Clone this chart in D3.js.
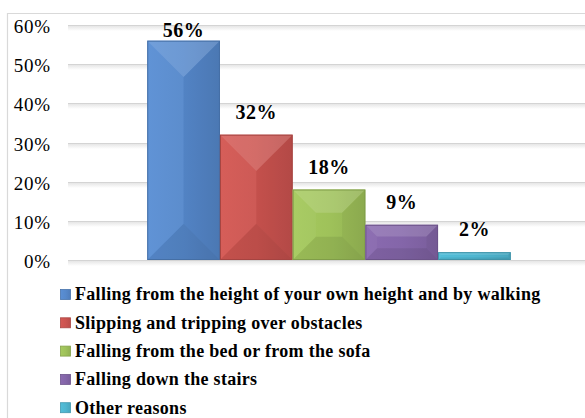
<!DOCTYPE html>
<html>
<head>
<meta charset="utf-8">
<script src="https://cdn.jsdelivr.net/npm/d3@7"></script>
<style>
  html, body { margin: 0; padding: 0; background: #fff; }
  #chart { width: 585px; height: 418px; overflow: hidden; }
  #chart text { font-family: "Liberation Serif", "Times New Roman", Times, serif; }
</style>
</head>
<body>
<div id="chart"></div>
<script>
/* ---- data ---- */
const seriesNames = [
  "Falling from the height of your own height and by walking",
  "Slipping and tripping over obstacles",
  "Falling from the bed or from the sofa",
  "Falling down the stairs",
  "Other reasons"
];
const seriesValues = [0.56, 0.32, 0.18, 0.09, 0.02];
const seriesColors = ["#5689cc", "#cc5450", "#9fc25a", "#8466a9", "#4fb6d0"];
const yTicks = [0, 0.1, 0.2, 0.3, 0.4, 0.5, 0.6];

(function () {
  "use strict";

  const WIDTH = 585;
  const HEIGHT = 418;
  const PLOT = { left: 68, right: 590, top: 25, bottom: 260 };
  const GRID_COLOR = "#d4d4d4";
  const FRAME_COLOR = "#d9d9d9";

  var svg = d3.select("#chart").append("svg")
    .attr("width", WIDTH)
    .attr("height", HEIGHT)
    .style("display", "block");

  var defs = svg.append("defs");

  /* soft shadow under gridlines */
  var shadow = defs.append("linearGradient")
    .attr("id", "gridShadow").attr("x1", 0).attr("y1", 0).attr("x2", 0).attr("y2", 1);
  shadow.append("stop").attr("offset", "0%").attr("stop-color", "#e6e6e6");
  shadow.append("stop").attr("offset", "100%").attr("stop-color", "#ffffff");

  /* horizontal shading per bar colour */
  seriesColors.forEach(function (c, i) {
    var g = defs.append("linearGradient")
      .attr("id", "barGrad" + i).attr("x1", 0).attr("y1", 0).attr("x2", 1).attr("y2", 0);
    g.append("stop").attr("offset", "0%").attr("stop-color", d3.color(c).brighter(0.12));
    g.append("stop").attr("offset", "50%").attr("stop-color", c);
    g.append("stop").attr("offset", "100%").attr("stop-color", d3.color(c).darker(0.25));
  });

  /* frame */
  svg.append("path")
    .attr("d", "M7.5," + HEIGHT + "V13.5H" + WIDTH)
    .attr("fill", "none")
    .attr("stroke", FRAME_COLOR)
    .attr("stroke-width", 1.2);

  /* scales */
  var y = d3.scaleLinear().domain([0, 0.6]).range([PLOT.bottom, PLOT.top]);
  var x = d3.scaleBand()
    .domain(seriesNames)
    .range([PLOT.left, PLOT.right])
    .paddingInner(0)
    .paddingOuter(1.09);

  /* gridlines */
  var grid = svg.append("g");
  grid.selectAll("rect.shadow")
    .data(yTicks).enter().append("rect")
    .attr("class", "shadow")
    .attr("x", PLOT.left).attr("y", function (d) { return Math.round(y(d)) + 1; })
    .attr("width", WIDTH - PLOT.left + 10).attr("height", 5)
    .attr("fill", "url(#gridShadow)");
  grid.selectAll("line")
    .data(yTicks).enter().append("line")
    .attr("x1", PLOT.left).attr("x2", WIDTH + 10)
    .attr("y1", function (d) { return Math.round(y(d)) + 0.5; })
    .attr("y2", function (d) { return Math.round(y(d)) + 0.5; })
    .attr("stroke", GRID_COLOR)
    .attr("stroke-width", 1.2);

  /* y axis labels */
  var yAxis = d3.axisLeft(y)
    .tickValues(yTicks)
    .tickFormat(d3.format(".0%"))
    .tickSize(0)
    .tickPadding(0);
  var gy = svg.append("g")
    .attr("transform", "translate(51,0)")
    .call(yAxis)
    .attr("font-family", null)
    .attr("font-size", null);
  gy.select(".domain").remove();
  gy.selectAll("text")
    .attr("dy", "0.4em")
    .style("font-size", "19px")
    .style("letter-spacing", "0.8px")
    .attr("fill", "#000");

  /* bars with bevel facets */
  var bars = svg.append("g").selectAll("g.bar")
    .data(seriesNames.map(function (n, i) { return { name: n, value: seriesValues[i], i: i }; }))
    .enter().append("g").attr("class", "bar");

  bars.each(function (d) {
    var g = d3.select(this);
    var x0 = x(d.name), x1 = x0 + x.bandwidth();
    var y0 = y(d.value), y1 = y(0);
    var w = x1 - x0, h = y1 - y0;
    var depth = Math.min(w / 2, h * 0.33);
    var ix0 = x0 + depth, ix1 = x1 - depth, iy0 = y0 + depth, iy1 = y1 - depth;
    var base = d3.color(seriesColors[d.i]);

    g.append("rect")
      .attr("x", x0).attr("y", y0).attr("width", w).attr("height", h)
      .attr("fill", "url(#barGrad" + d.i + ")");

    function facet(pts, fill, op) {
      g.append("polygon")
        .attr("points", pts.map(function (p) { return p.join(","); }).join(" "))
        .attr("fill", fill).attr("fill-opacity", op);
    }
    facet([[x0, y0], [x1, y0], [ix1, iy0], [ix0, iy0]], "#fff", 0.14);
    facet([[x0, y1], [x1, y1], [ix1, iy1], [ix0, iy1]], "#000", 0.08);
    facet([[x0, y0], [ix0, iy0], [ix0, iy1], [x0, y1]], "#fff", 0.04);
    facet([[x1, y0], [ix1, iy0], [ix1, iy1], [x1, y1]], "#000", 0.04);

    g.append("rect")
      .attr("x", x0 + 0.5).attr("y", y0 + 0.5).attr("width", w - 1).attr("height", Math.max(h - 1, 0))
      .attr("fill", "none")
      .attr("stroke", base.darker(0.6))
      .attr("stroke-width", 1);
  });

  /* value labels */
  bars.append("text")
    .attr("x", function (d) { return x(d.name) + x.bandwidth() / 2; })
    .attr("y", function (d) { return Math.max(y(d.value) - 16, PLOT.top + 12); })
    .attr("text-anchor", "middle")
    .style("font-size", "20px")
    .style("font-weight", "bold")
    .style("letter-spacing", "0.5px")
    .text(function (d) { return d3.format(".0%")(d.value); });

  /* legend */
  var legend = svg.append("g").attr("transform", "translate(60,294)");
  var rows = legend.selectAll("g")
    .data(seriesNames).enter().append("g")
    .attr("transform", function (d, i) { return "translate(0," + (i * 28.3) + ")"; });
  rows.append("rect")
    .attr("x", 0.5).attr("y", -4.5).attr("width", 10).attr("height", 10)
    .attr("fill", function (d, i) { return "url(#barGrad" + i + ")"; })
    .attr("stroke", function (d, i) { return d3.color(seriesColors[i]).darker(0.5); })
    .attr("stroke-width", 0.8);
  rows.append("text")
    .attr("x", 15).attr("y", 0).attr("dy", "0.35em")
    .style("font-size", "18px")
    .style("font-weight", "bold")
    .style("letter-spacing", "0.3px")
    .text(function (d) { return d; });
})();
</script>
</body>
</html>
